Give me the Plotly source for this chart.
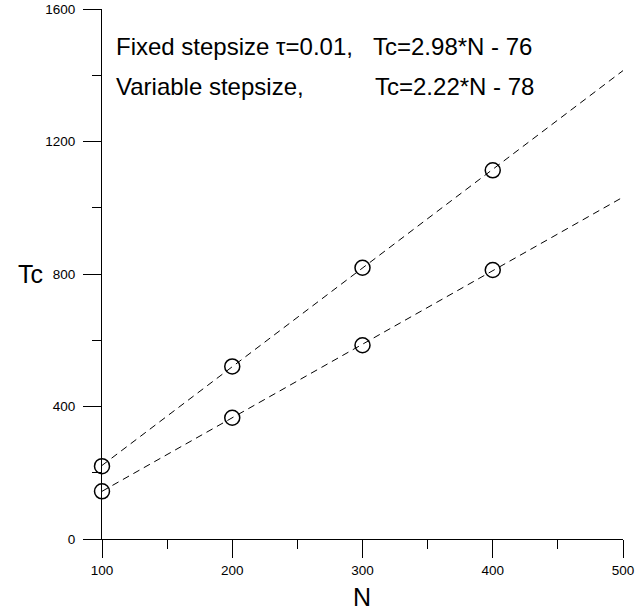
import plotly.graph_objects as go

# Data
n_values = [100, 200, 300, 400]
tc_fixed = [220, 521, 819, 1113]
tc_variable = [144, 366, 585, 812]

fit_n = [100, 500]
fit_fixed = [222, 1414]
fit_variable = [144, 1032]

x_ticks = [100, 200, 300, 400, 500]
y_ticks = [0, 400, 800, 1200, 1600]

FONT = "Arial, Liberation Sans, sans-serif"

W, H = 635, 614
L, R, T, B = 102, 12, 9, 75
PW, PH = W - L - R, H - T - B


def px(x):
    return (x - L) / PW


def py(y):
    return (H - B - y) / PH


fig = go.Figure()

for fit in (fit_fixed, fit_variable):
    fig.add_trace(go.Scatter(x=fit_n, y=fit, mode="lines",
                             line=dict(color="black", width=1, dash="7px,5px"),
                             showlegend=False, hoverinfo="skip", cliponaxis=False))
for series in (tc_fixed, tc_variable):
    fig.add_trace(go.Scatter(x=n_values, y=series, mode="markers",
                             marker=dict(symbol="circle-open", size=15, color="black",
                                         line=dict(width=1.5, color="black")),
                             showlegend=False, cliponaxis=False))

axis_common = dict(ticks="outside", tickwidth=1, tickcolor="black", showline=True,
                   linecolor="black", linewidth=1, showgrid=False, zeroline=False,
                   automargin=False,
                   tickfont=dict(size=13.5, family=FONT, color="black"))

fig.update_layout(
    width=W, height=H,
    margin=dict(l=L, r=R, t=T, b=B, autoexpand=False),
    paper_bgcolor="white", plot_bgcolor="white",
    font=dict(family=FONT, color="black", size=13),
    showlegend=False,
    xaxis=dict(range=[100, 500], tickvals=x_ticks, ticklen=18, ticklabelstandoff=1,
               minor=dict(dtick=50, ticks="outside", ticklen=9, tickcolor="black",
                          tickwidth=1, showgrid=False),
               **axis_common),
    yaxis=dict(range=[0, 1600], tickvals=y_ticks, ticklen=18, ticklabelstandoff=5,
               minor=dict(dtick=200, ticks="outside", ticklen=9, tickcolor="black",
                          tickwidth=1, showgrid=False),
               **axis_common),
    annotations=[
        dict(text="Tc", xref="paper", yref="paper", x=px(30), y=py(274),
             xanchor="center", yanchor="middle", showarrow=False,
             font=dict(size=25, family=FONT, color="black")),
        dict(text="N", xref="paper", yref="paper", x=px(362), y=py(597),
             xanchor="center", yanchor="middle", showarrow=False,
             font=dict(size=25, family=FONT, color="black")),
        dict(text="Fixed stepsize \u03c4=0.01,", xref="paper", yref="paper",
             x=px(114), y=py(47), xanchor="left", yanchor="middle",
             showarrow=False, font=dict(size=24, family=FONT, color="black")),
        dict(text="Tc=2.98*N - 76", xref="paper", yref="paper",
             x=px(371), y=py(47), xanchor="left", yanchor="middle",
             showarrow=False, font=dict(size=24, family=FONT, color="black")),
        dict(text="Variable stepsize,", xref="paper", yref="paper",
             x=px(114), y=py(87), xanchor="left", yanchor="middle",
             showarrow=False, font=dict(size=24, family=FONT, color="black")),
        dict(text="Tc=2.22*N - 78", xref="paper", yref="paper",
             x=px(373), y=py(87), xanchor="left", yanchor="middle",
             showarrow=False, font=dict(size=24, family=FONT, color="black")),
    ],
)

fig.write_html("out.html", config={"displayModeBar": False},
               post_script="document.body.style.margin='0';")
